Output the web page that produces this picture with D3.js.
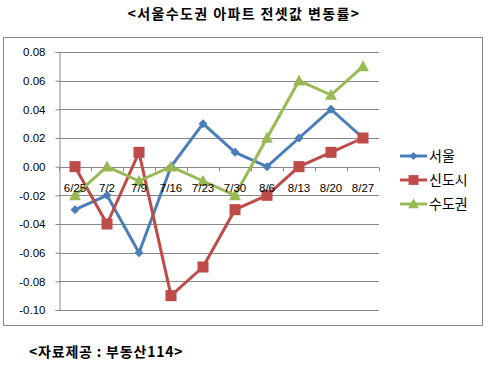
<!DOCTYPE html>
<html>
<head>
<meta charset="utf-8">
<script src="https://cdn.jsdelivr.net/npm/d3@7/dist/d3.min.js"></script>
<style>
  body { margin: 0; background: #fff; }
  svg { display: block; }
  text { font-family: "Liberation Sans", "Noto Sans CJK KR", sans-serif; }
  .kr { font-family: "Noto Sans CJK KR", sans-serif; }
</style>
</head>
<body>
<svg id="chart" width="488" height="367"></svg>
<script>
// weekly jeonse price change, Seoul metro area
const weeks = ['6/25', '7/2', '7/9', '7/16', '7/23', '7/30', '8/6', '8/13', '8/20', '8/27'];
const seoul = [-0.03, -0.02, -0.06, 0.00, 0.03, 0.01, 0.00, 0.02, 0.04, 0.02];
const newTowns = [0.00, -0.04, 0.01, -0.09, -0.07, -0.03, -0.02, 0.00, 0.01, 0.02];
const metro = [-0.02, 0.00, -0.01, 0.00, -0.01, -0.02, 0.02, 0.06, 0.05, 0.07];
const yTicks = [0.08, 0.06, 0.04, 0.02, 0.00, -0.02, -0.04, -0.06, -0.08, -0.10];

const series = [
  { name: '서울', values: seoul, color: '#4a7ebb', marker: 'diamond' },
  { name: '신도시', values: newTowns, color: '#be4b48', marker: 'square' },
  { name: '수도권', values: metro, color: '#98b954', marker: 'triangle' },
];

const svg = d3.select('#chart');
const plot = { left: 59, right: 379, top: 52, bottom: 310 };

// title + source
svg.append('text').attr('class', 'kr')
  .attr('x', 244).attr('y', 19).attr('text-anchor', 'middle')
  .attr('font-size', 14).attr('font-weight', 'bold').attr('letter-spacing', 1.4).attr('fill', '#000')
  .text('<서울수도권 아파트 전셋값 변동률>');
svg.append('text').attr('class', 'kr')
  .attr('x', 29).attr('y', 357)
  .attr('font-size', 14).attr('font-weight', 'bold').attr('letter-spacing', 0.8).attr('fill', '#000')
  .text('<자료제공 : 부동산114>');

// chart frame
svg.append('rect').attr('x', 3.5).attr('y', 37.5).attr('width', 479).attr('height', 288)
  .attr('fill', '#fff').attr('stroke', '#888').attr('stroke-width', 1);

const x = d3.scaleBand().domain(weeks).range([plot.left, plot.right]);
const y = d3.scaleLinear().domain([-0.10, 0.08]).range([plot.bottom, plot.top]);
const cx = d => x(d) + x.bandwidth() / 2;

// gridlines
svg.append('g').selectAll('line').data(yTicks).join('line')
  .attr('x1', plot.left).attr('x2', plot.right)
  .attr('y1', d => Math.round(y(d)) + 0.5).attr('y2', d => Math.round(y(d)) + 0.5)
  .attr('stroke', '#888').attr('stroke-width', 1);

// y axis
const yAxis = svg.append('g').attr('transform', `translate(${plot.left + 0.5},0)`)
  .call(d3.axisLeft(y).tickValues(yTicks).tickFormat(d3.format('.2f')).tickSize(4).tickPadding(10));
yAxis.select('.domain').attr('stroke', '#888');
yAxis.selectAll('.tick line').attr('stroke', '#888');
yAxis.selectAll('.tick text').attr('font-size', 11.5).attr('fill', '#000')
  .attr('font-family', 'Liberation Sans, sans-serif')
  .text(d => d3.format('.2f')(d).replace('−', '-'));

// x axis on the zero line, ticks between categories
const zeroY = Math.round(y(0)) + 0.5;
svg.append('line').attr('x1', plot.left).attr('x2', plot.right)
  .attr('y1', zeroY).attr('y2', zeroY).attr('stroke', '#888');
const bounds = weeks.map(w => x(w)).concat([plot.right]);
svg.append('g').selectAll('line').data(bounds).join('line')
  .attr('x1', d => Math.round(d) + 0.5).attr('x2', d => Math.round(d) + 0.5)
  .attr('y1', zeroY).attr('y2', zeroY + 4).attr('stroke', '#888');

// markers
function drawMarker(sel, type, color, size) {
  if (type === 'diamond') {
    sel.append('path').attr('d', `M0,${-size}L${size},0L0,${size}L${-size},0Z`).attr('fill', color);
  } else if (type === 'square') {
    sel.append('rect').attr('x', -size).attr('y', -size).attr('width', size * 2).attr('height', size * 2)
      .attr('fill', color);
  } else {
    sel.append('path').attr('d', `M0,${-size}L${size},${size * 0.8}L${-size},${size * 0.8}Z`).attr('fill', color);
  }
}
const markerSize = { diamond: 4.5, square: 5.5, triangle: 6 };

const line = d3.line().x((d, i) => cx(weeks[i])).y(d => y(d));
series.forEach(s => {
  svg.append('path').datum(s.values).attr('d', line)
    .attr('fill', 'none').attr('stroke', s.color).attr('stroke-width', 3)
    .attr('stroke-linejoin', 'round');
});
series.forEach(s => {
  s.values.forEach((v, i) => {
    const g = svg.append('g').attr('transform', `translate(${cx(weeks[i])},${y(v)})`);
    drawMarker(g, s.marker, s.color, markerSize[s.marker]);
  });
});

// category labels sit on top of the lines
svg.append('g').selectAll('text').data(weeks).join('text')
  .attr('x', d => cx(d)).attr('y', 192).attr('text-anchor', 'middle')
  .attr('font-size', 11.5).attr('fill', '#000')
  .text(d => d);

// legend
series.forEach((s, i) => {
  const ly = 156 + i * 24;
  svg.append('line').attr('x1', 400).attr('x2', 427).attr('y1', ly).attr('y2', ly)
    .attr('stroke', s.color).attr('stroke-width', 3);
  const g = svg.append('g').attr('transform', `translate(413.5,${ly})`);
  drawMarker(g, s.marker, s.color, markerSize[s.marker] * 0.9);
  svg.append('text').attr('class', 'kr').attr('x', 429).attr('y', ly + 5)
    .attr('font-size', 14).attr('fill', '#000').text(s.name);
});
</script>
</body>
</html>
